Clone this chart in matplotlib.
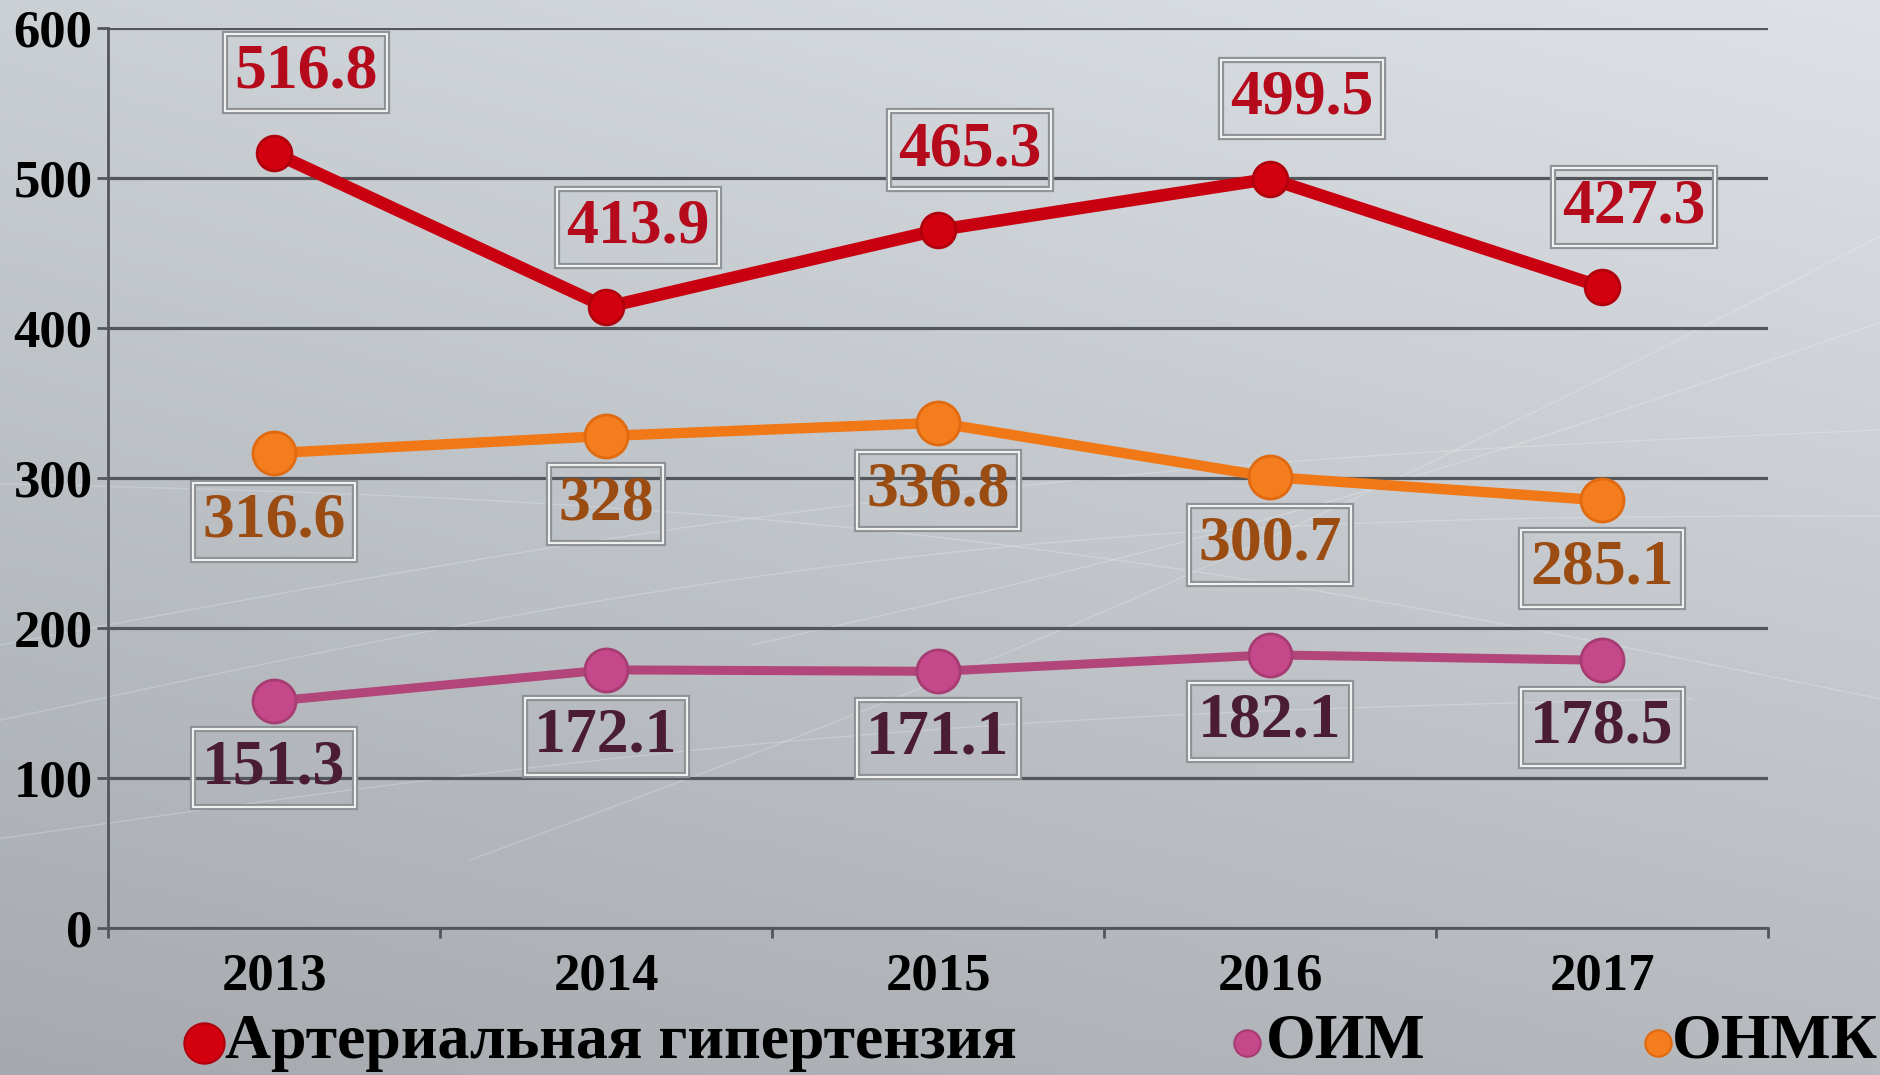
import numpy as np
import matplotlib
matplotlib.use("Agg")
import matplotlib.pyplot as plt
import matplotlib.patheffects as pe
from matplotlib.lines import Line2D

# ── Data ──────────────────────────────────────────────────────────────────────

YEARS   = ["2013", "2014", "2015", "2016", "2017"]
AG      = [516.8, 413.9, 465.3, 499.5, 427.3]   # Артериальная гипертензия
OIM     = [151.3, 172.1, 171.1, 182.1, 178.5]   # ОИМ
ONMK    = [316.6, 328.0, 336.8, 300.7, 285.1]   # ОНМК
Y_TICKS = [0, 100, 200, 300, 400, 500, 600]
NAMES   = ["Артериальная гипертензия", "ОИМ", "ОНМК"]

# ── Style ─────────────────────────────────────────────────────────────────────

W, H = 1880, 1075
FONT = "Liberation Serif"
AXIS_C = "#52565b"
GRID_C = "#53575c"

plt.rcParams["font.family"] = [FONT, "DejaVu Serif"]
plt.rcParams["font.weight"] = "bold"

# values, line colour, marker colour, edge, label colour, lw, ms, label offset (px, y up)
S_AG   = (AG,   "#c8000f", "#d3000f", "#b0000c", "#b5091c", 9.0, 25, (32, 80))
S_ONMK = (ONMK, "#f07816", "#f47d1e", "#e06a10", "#9b4c12", 7.5, 31, (0, -68))
S_OIM  = (OIM,  "#b2467a", "#c4488a", "#a63c72", "#4b1d33", 6.5, 31, (0, -67))
SERIES = [S_AG, S_ONMK, S_OIM]

fig = plt.figure(figsize=(W / 100, H / 100), dpi=100)

# background gradient + faint swooshes
bg = fig.add_axes([0, 0, 1, 1], zorder=0)
yy, xx = np.mgrid[0:1:200j, 0:1:300j]
c_tl = np.array([0xcb, 0xd0, 0xd5]) / 255
c_tr = np.array([0xde, 0xe2, 0xe6]) / 255
c_bl = np.array([0xa6, 0xaa, 0xaf]) / 255
c_br = np.array([0xb6, 0xba, 0xbf]) / 255
grad = (c_tl * ((1 - xx) * (1 - yy))[..., None] + c_tr * (xx * (1 - yy))[..., None]
        + c_bl * ((1 - xx) * yy)[..., None] + c_br * (xx * yy)[..., None])
bg.imshow(grad, extent=[0, 1, 0, 1], aspect="auto")
t = np.linspace(0, 1, 200)
for (x0, y0, x1, y1, bow) in [(0.0, 0.33, 1.0, 0.52, 0.06), (0.0, 0.40, 1.0, 0.60, 0.04),
                              (0.25, 0.20, 1.0, 0.78, -0.03), (0.0, 0.55, 1.0, 0.35, 0.05),
                              (0.0, 0.22, 0.9, 0.35, 0.03), (0.4, 0.40, 1.0, 0.70, -0.02)]:
    bg.plot(x0 + (x1 - x0) * t, y0 + (y1 - y0) * t + bow * np.sin(np.pi * t),
            color="white", lw=0.9, alpha=0.22)
bg.set_xlim(0, 1)
bg.set_ylim(0, 1)
bg.axis("off")

# main axes
ax = fig.add_axes([108 / W, 1 - 928 / H, 1660 / W, 900 / H], zorder=1)
ax.patch.set_alpha(0)
ax.set_xlim(-0.5, 4.5)
ax.set_ylim(0, 600)

for s in ("top", "right"):
    ax.spines[s].set_visible(False)
for s in ("left", "bottom"):
    ax.spines[s].set_color(AXIS_C)
    ax.spines[s].set_linewidth(2)

ax.set_yticks(Y_TICKS)
ax.set_yticklabels([str(v) for v in Y_TICKS])
ax.yaxis.grid(True, color=GRID_C, lw=2.3)
ax.set_axisbelow(True)
ax.tick_params(axis="y", direction="out", length=8, width=2, color=AXIS_C,
               pad=3, labelsize=38, labelcolor="black")

ax.set_xticks(np.arange(-0.5, 5, 1))
ax.set_xticklabels([])
ax.tick_params(axis="x", which="major", direction="out", length=7, width=2, color=AXIS_C)
ax.set_xticks(range(len(YEARS)), minor=True)
ax.set_xticklabels(YEARS, minor=True)
ax.tick_params(axis="x", which="minor", length=0, pad=18, labelsize=38, labelcolor="black")

x = np.arange(len(YEARS))
for vals, lc, mc, ec, tc, lw, ms, (dx, dy) in SERIES:
    ax.plot(x, vals, color=lc, lw=lw, marker="o", ms=ms, mfc=mc, mec=ec, mew=2,
            solid_capstyle="round", zorder=3)
    for xi, v in zip(x, vals):
        ann = ax.annotate(f"{v:g}", (xi, v), xytext=(dx, dy), textcoords="offset pixels",
                          ha="center", va="center", fontsize=46, fontweight="bold",
                          color=tc, zorder=4,
                          bbox=dict(boxstyle="square,pad=0.15", fc="none",
                                    ec="#f0f0f0", lw=1.5))
        ann.get_bbox_patch().set_path_effects(
            [pe.withStroke(linewidth=4.5, foreground="#8e9296")])

# legend (drawn by hand, spacing as in the source slide)
leg_y = 1 - 1043 / H
for (mx, tx, ms), name, (vals, lc, mc, ec, tc, lw, _, _) in zip(
        [(204, 225, 29), (1247, 1266, 19), (1658, 1672, 19)], NAMES, [S_AG, S_OIM, S_ONMK]):
    fig.add_artist(Line2D([mx / W], [leg_y], marker="o", ms=ms, mfc=mc, mec=ec,
                          mew=1.5, transform=fig.transFigure))
    fig.text(tx / W, leg_y, name, ha="left", va="center", fontsize=46,
             fontweight="bold", color="black")

fig.savefig("out.png", dpi=100)
